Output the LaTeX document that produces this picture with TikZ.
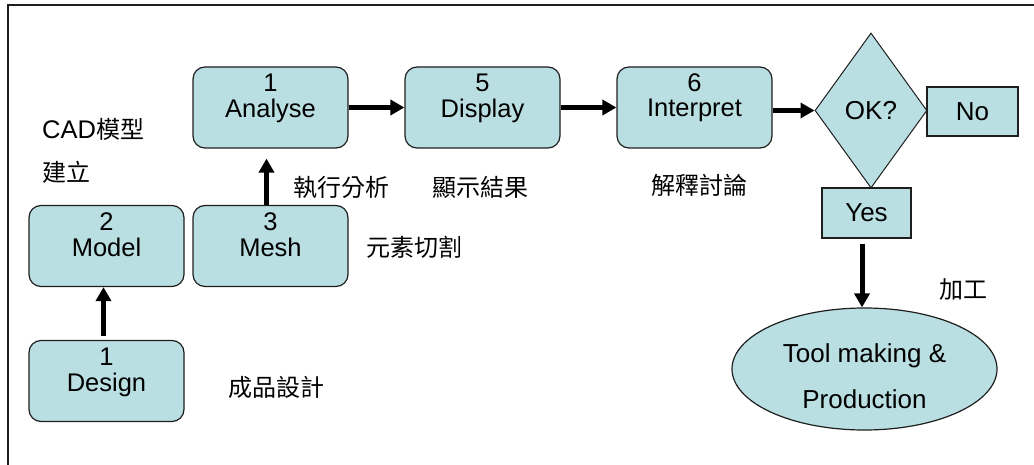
\documentclass[tikz,border=0pt]{standalone}
\usepackage{fontspec}
\setmainfont{Liberation Sans}
\newfontfamily\cjk{Noto Sans CJK TC}
\usetikzlibrary{shapes.geometric,arrows.meta}
\definecolor{boxfill}{RGB}{186,223,226}
\definecolor{edge}{RGB}{30,30,30}
\tikzset{
  stepbox/.style={draw=edge, line width=1.2pt, fill=boxfill, rounded corners=12pt,
    minimum width=155pt, minimum height=81pt, inner sep=0pt,
    font=\fontsize{25.5}{24.5}\selectfont, text height=0pt, text depth=31pt},
  plainbox/.style={draw=edge, line width=1.2pt, fill=boxfill, inner sep=0pt,
    font=\fontsize{26}{28}\selectfont},
  decision/.style={draw=edge, line width=1pt, fill=boxfill, shape=diamond, inner sep=0pt,
    minimum width=112pt, minimum height=155pt, font=\fontsize{26}{28}\selectfont},
  endnode/.style={draw=edge, line width=1.2pt, fill=boxfill, shape=ellipse, inner sep=0pt,
    minimum width=265pt, minimum height=122pt,
    font=\fontsize{26}{46}\selectfont, text height=0pt, text depth=14pt},
  note/.style={anchor=west, inner sep=0pt, font=\fontsize{24}{26}\selectfont\cjk},
  flow/.style={line width=5pt, -{Triangle[length=14pt,width=15pt]}},
}
\begin{document}
\begin{tikzpicture}[x=1pt,y=-1pt]
  \useasboundingbox (0,0) rectangle (1034,465);
  \draw[line width=1.5pt, edge] (8,465) -- (8,5) -- (1034,5);

  \node[stepbox] (an) at (270.5,107.5) {\begin{tabular}[t]{@{}c@{}}1\\Analyse\end{tabular}};
  \node[stepbox] (di) at (482.5,107.5) {\begin{tabular}[t]{@{}c@{}}5\\Display\end{tabular}};
  \node[stepbox] (in) at (694.5,107.5) {\begin{tabular}[t]{@{}c@{}}6\\Interpret\end{tabular}};
  \node[stepbox] (mo) at (106.5,246) {\begin{tabular}[t]{@{}c@{}}2\\Model\end{tabular}};
  \node[stepbox] (me) at (270.5,246) {\begin{tabular}[t]{@{}c@{}}3\\Mesh\end{tabular}};
  \node[stepbox] (de) at (106.5,381) {\begin{tabular}[t]{@{}c@{}}1\\Design\end{tabular}};

  \node[decision] (ok) at (871,110.5) {OK?};
  \node[plainbox, minimum width=91pt, minimum height=49pt] (no) at (972.5,111.5) {No};
  \node[plainbox, minimum width=89pt, minimum height=50pt] (yes) at (866.5,213) {Yes};
  \node[endnode] (tool) at (864.5,369) {\begin{tabular}[t]{@{}c@{}}Tool making \&\\Production\end{tabular}};

  \draw[flow] (an.east) -- (di.west);
  \draw[flow] (di.east) -- (in.west);
  \draw[flow] (in.east |- ok.west) -- (ok.west);
  \draw[flow, shorten >=10pt] ([xshift=-4pt]me.north) -- ([xshift=-4pt]an.south);
  \draw[flow, shorten <=4pt] ([xshift=-3pt]de.north) -- ([xshift=-3pt]mo.south);
  \draw[flow, shorten <=5pt] ([xshift=-4.5pt]yes.south) -- ([xshift=-4.5pt]yes.south |- tool.north);

  \node[note] (cad) at (42,129) {{\fontspec{Liberation Sans}\fontsize{25.5}{26}\selectfont CAD}模型};
  \node[note] (jl) at (42,172) {建立};
  \node[note] (zx) at (293,187) {執行分析};
  \node[note] (xs) at (432,187) {顯示結果};
  \node[note] (jx) at (651,185) {解釋討論};
  \node[note] (ys) at (366,247) {元素切割};
  \node[note] (cp) at (228,387) {成品設計};
  \node[note] (jg) at (939,290) {加工};
\end{tikzpicture}
\end{document}
